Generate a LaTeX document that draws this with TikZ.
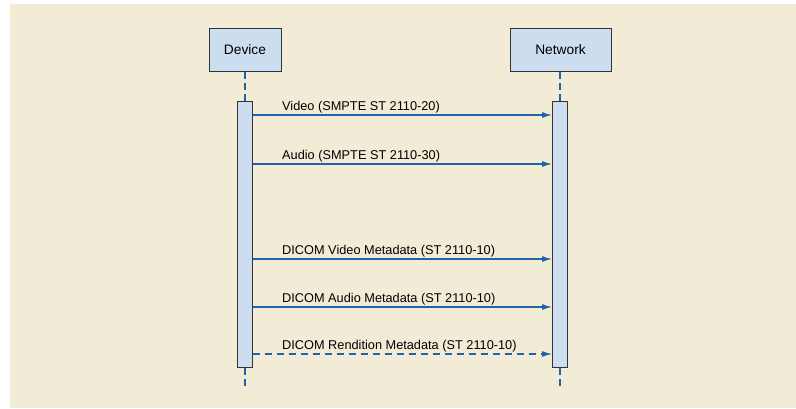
\documentclass[tikz,border=0pt]{standalone}
\usepackage{fontspec}
\setmainfont{Liberation Sans}
\usetikzlibrary{arrows.meta}
\definecolor{bgbeige}{HTML}{F2ECD7}
\definecolor{boxblue}{HTML}{CCDDF0}
\definecolor{msgblue}{HTML}{1F64A6}
\definecolor{edgegray}{HTML}{333333}
\tikzstyle{actor} = [draw=edgegray, fill=boxblue, line width=1bp, inner sep=0pt, minimum height=43bp, font=\fontsize{13.8}{16}\selectfont]
\tikzstyle{bar} = [draw=edgegray, fill=boxblue, line width=1bp, inner sep=0pt, minimum width=15bp, minimum height=266bp]
\tikzstyle{life} = [msgblue, line width=1.2bp, dash pattern=on 7bp off 4bp]
\tikzstyle{msg} = [msgblue, line width=1.2bp, -{Latex[length=10bp,width=6bp]}]
\tikzstyle{lbl} = [anchor=base west, inner sep=0pt, font=\fontsize{12.8}{15}\selectfont]

\begin{document}
\begin{tikzpicture}[x=1bp,y=-1bp]
	\useasboundingbox (0,0) rectangle (796,408);
	\fill [bgbeige] (10,4) rectangle (796,408);
	% lifelines
	\node[bar] (devbar) at (245,234) {};
	\node[bar] (netbar) at (560,234) {};
	\node[actor, minimum width=72bp] (device) at (245,49.5) {Device};
	\node[actor, minimum width=101bp] (network) at (560.5,49.5) {Network};
	\coordinate (devend) at (245,389);
	\coordinate (netend) at (560,389);
	\draw[life] (device.south) -- (devbar.north);
	\draw[life] (network.south -| netbar.north) -- (netbar.north);
	\draw[life] (devbar.south) -- (devend);
	\draw[life] (netbar.south) -- (netend);
	% messages
	\foreach \y/\txt [count=\i] in {115/{Video (SMPTE ST 2110-20)}, 164/{Audio (SMPTE ST 2110-30)}, 259/{DICOM Video Metadata (ST 2110-10)}, 307/{DICOM Audio Metadata (ST 2110-10)}} {
		\coordinate (y\i) at (0,\y);
		\draw[msg] (devbar.east |- y\i) -- (netbar.west |- y\i);
		\node[lbl] (m\i) at (282,\y-5) {\txt};
	}
	\coordinate (y5) at (0,354);
	\draw[msg, dash pattern=on 7bp off 5bp] (devbar.east |- y5) -- (netbar.west |- y5);
	\node[lbl] (m5) at (282,349) {DICOM Rendition Metadata (ST 2110-10)};
\end{tikzpicture}
\end{document}
